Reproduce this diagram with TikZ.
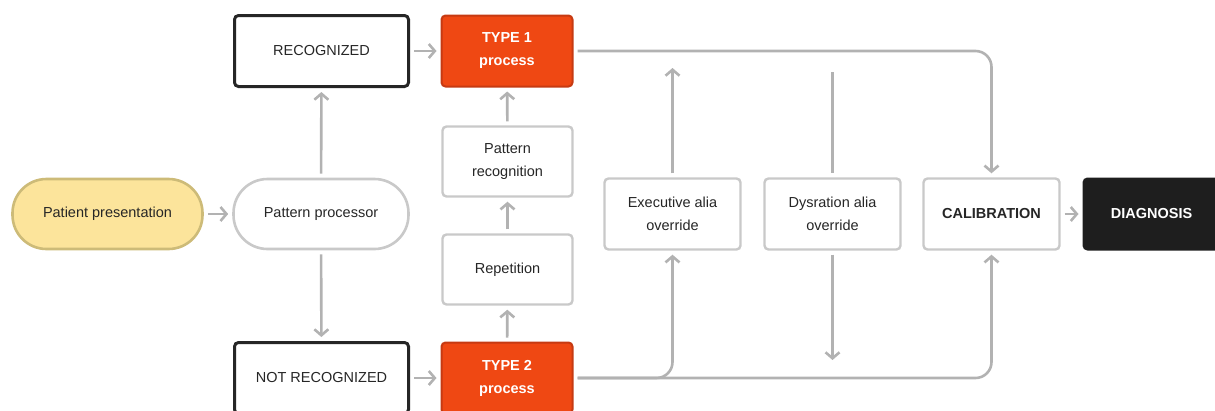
\documentclass[tikz,border=0pt]{standalone}
\usepackage{fontspec}
\setmainfont{Liberation Sans}
\usetikzlibrary{arrows.meta}
\definecolor{ink}{HTML}{262626}
\definecolor{conngray}{HTML}{B2B2B2}
\definecolor{boxgray}{HTML}{C9C9C9}
\definecolor{patfill}{HTML}{FCE49B}
\definecolor{patline}{HTML}{CDBB78}
\definecolor{typefill}{HTML}{EF4813}
\definecolor{typeline}{HTML}{C63A12}
\definecolor{darkfill}{HTML}{1E1E1E}
\tikzset{
  base/.style={inner sep=0pt, align=center, font=\fontsize{14.5}{23}\selectfont, text=ink},
  pill/.style={base, rounded corners=34pt, line width=2.6pt, minimum height=70pt},
  plainbox/.style={base, draw=boxgray, fill=white, rounded corners=4pt, line width=2.4pt},
  darkedge/.style={base, draw=ink, fill=white, rounded corners=4pt, line width=3pt,
    minimum width=174pt, minimum height=71pt},
  typebox/.style={base, draw=typeline, fill=typefill, rounded corners=4pt, line width=2pt,
    text=white, font=\fontsize{14.5}{23}\selectfont\bfseries, minimum width=131pt, minimum height=71pt},
  midbox/.style={plainbox, minimum width=130pt, minimum height=70pt},
  sidebox/.style={plainbox, minimum width=136pt, minimum height=71pt},
  conn/.style={draw=conngray, line width=2.6pt, shorten >=4pt, shorten <=4pt,
    -{Straight Barb[length=6pt, width=14pt, line width=2.6pt]}},
  line/.style={draw=conngray, line width=2.6pt, shorten >=4pt, shorten <=4pt},
}
\begin{document}
\begin{tikzpicture}[x=1pt, y=-1pt]
\useasboundingbox (0,0) rectangle (1215,410);

% first column
\node[pill, draw=patline, fill=patfill, minimum width=190pt] (pat) at (107.5,214) {Patient presentation};
\node[pill, draw=boxgray, fill=white, minimum width=175pt] (proc) at (321,214) {Pattern processor};
\node[darkedge] (rec) at (321.5,51) {RECOGNIZED};
\node[darkedge] (nrec) at (321.5,378) {NOT RECOGNIZED};

% type 1 / type 2 column
\node[typebox] (t1) at (507,51) {TYPE 1\\process};
\node[midbox] (prec) at (507.5,161.5) {Pattern\\recognition};
\node[midbox] (rep) at (507.5,269.5) {Repetition};
\node[typebox] (t2) at (507,378) {TYPE 2\\process};

% overrides, calibration, diagnosis
\node[sidebox] (ex) at (672.5,214) {Executive alia\\override};
\node[sidebox] (dy) at (832.5,214) {Dysration alia\\override};
\node[sidebox, font=\fontsize{14.5}{23}\selectfont\bfseries] (cal) at (991.5,214) {CALIBRATION};
\node[base, draw=darkfill, fill=darkfill, rounded corners=4pt, line width=2pt, text=white,
  font=\fontsize{14.5}{23}\selectfont\bfseries, minimum width=136pt, minimum height=71pt]
  (diag) at (1151.5,214) {DIAGNOSIS};

% free ends of the override lines
\coordinate (exTop) at (672.5,68);
\coordinate (dyTop) at (832.5,72);
\coordinate (dyBot) at (832.5,360);

% connectors
\draw[conn] (pat) -- (proc);
\draw[conn] (proc) -- (rec);
\draw[conn] (proc) -- (nrec);
\draw[conn] (rec) -- (t1);
\draw[conn] (nrec) -- (t2);
\draw[conn] (t2) -- (rep);
\draw[conn] (rep) -- (prec);
\draw[conn] (prec) -- (t1);
\draw[conn, rounded corners=16pt] (t1.east) -- (t1.east -| cal.north) -- (cal.north);
\draw[conn, rounded corners=16pt] (t2.east) -- (t2.east -| ex.south) -- (ex.south);
\draw[conn, rounded corners=16pt] (t2.east) -- (t2.east -| cal.south) -- (cal.south);
\draw[conn, shorten >=0pt] (ex.north) -- (exTop);
\draw[line, shorten <=0pt] (dyTop) -- (dy.north);
\draw[conn, shorten >=0pt] (dy.south) -- (dyBot);
\draw[conn] (cal) -- (diag);
\end{tikzpicture}
\end{document}
